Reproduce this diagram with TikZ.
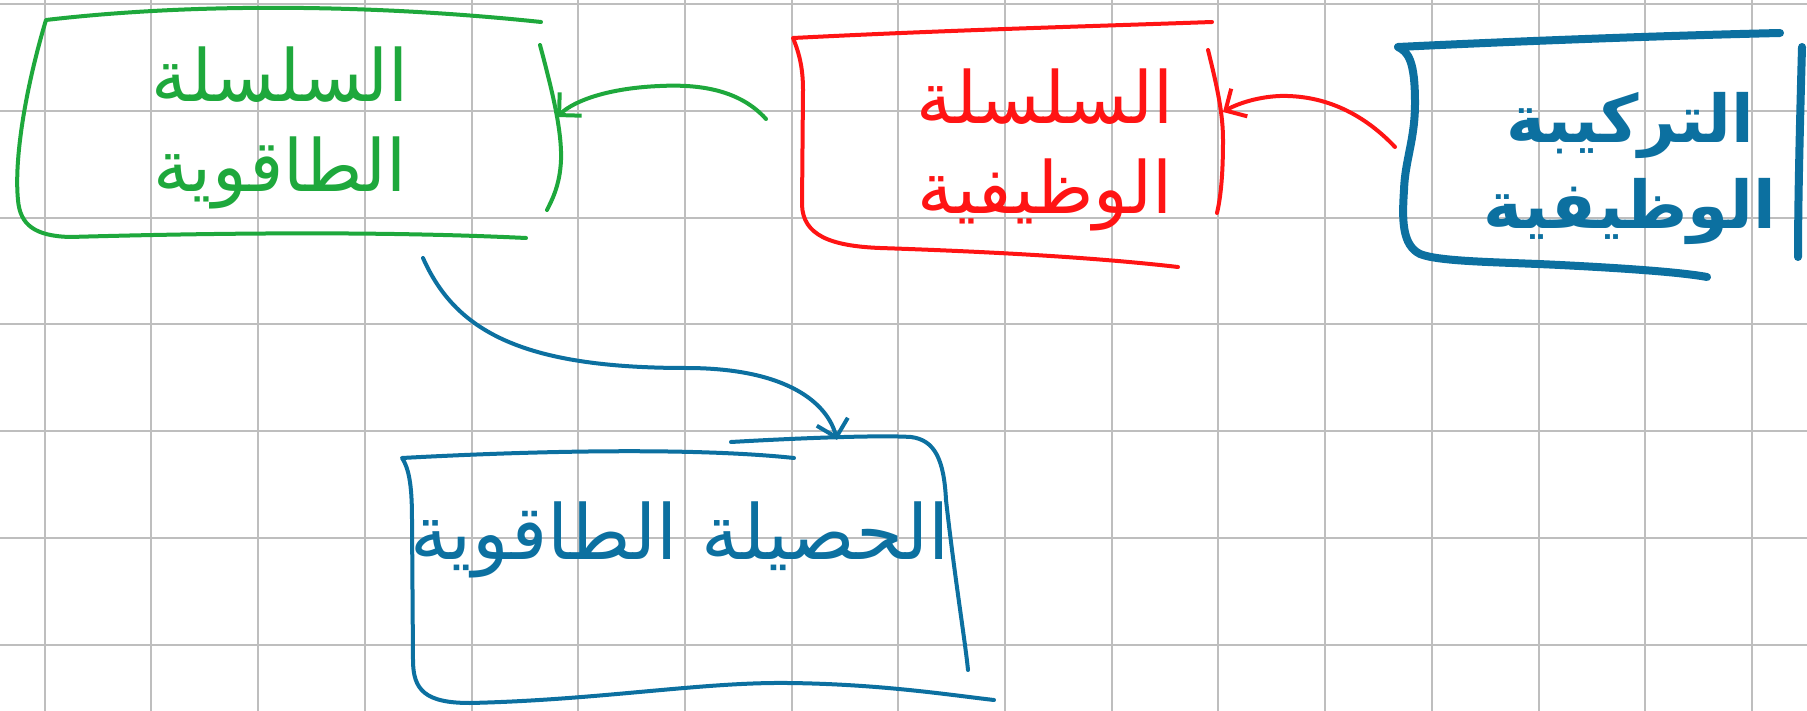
\documentclass[tikz,border=0pt]{standalone}
\usepackage{fontspec}
\newfontfamily\arabicfont[Script=Arabic]{DejaVu Sans}
\TeXXeTstate=1
\usetikzlibrary{arrows.meta}
\definecolor{pgreen}{RGB}{30,168,60}
\definecolor{pred}{RGB}{255,20,20}
\definecolor{pblue}{RGB}{12,112,160}
\definecolor{gridgray}{RGB}{190,190,190}
\begin{document}
\begin{tikzpicture}[x=1pt,y=-1pt,line cap=round,line join=round,
  pen/.style={line width=4pt},
  thickpen/.style={line width=8pt},
  lbl/.style={font=\arabicfont\fontsize{72}{90}\selectfont,align=center,inner sep=0pt},
  arr/.style={-{Straight Barb[length=16pt,width=32pt]}}]
\useasboundingbox (0,0) rectangle (1807,711);
\fill[white] (0,0) rectangle (1807,711);
% grid
\foreach \k in {0,...,16}{\draw[gridgray,line width=2pt] ({44.7+\k*106.7},0) -- ({44.7+\k*106.7},711);}
\foreach \k in {0,...,6}{\draw[gridgray,line width=2pt] (0,{4.3+\k*106.7}) -- (1807,{4.3+\k*106.7});}

% text nodes
\node[lbl,text=pgreen] (green) at (280,128) {\beginR السلسلة\endR\\\beginR الطاقوية\endR};
\node[lbl,text=pred] (red) at (1045,150) {\beginR السلسلة\endR\\\beginR الوظيفية\endR};
\node[lbl,text=pblue,font=\arabicfont\bfseries\fontsize{66}{86}\selectfont] (blue) at (1630,168) {\beginR التركيبة\endR\\\beginR الوظيفية\endR};
\node[lbl,text=pblue,font=\arabicfont\fontsize{76}{90}\selectfont] (bal) at (680,540) {\beginR الحصيلة الطاقوية\endR};

% green box
\draw[pen,pgreen] (541,22) .. controls (380,5) and (200,2) .. (46,20)
  .. controls (25,90) and (14,160) .. (18,200)
  .. controls (20,225) and (35,236) .. (70,237)
  .. controls (250,232) and (400,232) .. (526,238);
\draw[pen,pgreen] (540,45) .. controls (552,90) and (562,130) .. (561,160)
  .. controls (560,185) and (552,200) .. (547,210);

% red box
\draw[pen,pred] (1212,22) .. controls (1100,26) and (950,30) .. (793,38)
  .. controls (800,55) and (803,70) .. (803,90) -- (802,205)
  .. controls (803,235) and (830,246) .. (880,248)
  .. controls (1000,252) and (1100,258) .. (1178,267);
\draw[pen,pred] (1208,50) .. controls (1218,90) and (1223,115) .. (1223,140)
  .. controls (1223,180) and (1220,200) .. (1217,213);

% blue right box
\draw[thickpen,pblue] (1780,33) .. controls (1650,36) and (1500,42) .. (1398,47)
  .. controls (1408,52) and (1415,60) .. (1415,103)
  .. controls (1415,140) and (1405,160) .. (1404,190)
  .. controls (1402,220) and (1402,245) .. (1420,254)
  .. controls (1440,262) and (1500,262) .. (1560,265)
  .. controls (1620,268) and (1680,272) .. (1707,277);
\draw[thickpen,pblue] (1802,47) .. controls (1800,120) and (1798,200) .. (1798,257);

% bottom blue box
\draw[pen,pblue] (794,458) .. controls (700,448) and (550,450) .. (402,458)
  .. controls (410,470) and (412,490) .. (412,520) -- (413,660)
  .. controls (413,690) and (425,703) .. (470,703)
  .. controls (600,700) and (700,682) .. (788,683)
  .. controls (880,684) and (950,695) .. (994,700);
\draw[pen,pblue] (731,442) .. controls (800,438) and (880,435) .. (911,437)
  .. controls (935,440) and (944,460) .. (946,500)
  .. controls (955,580) and (965,640) .. (968,670);

% connector end points
\coordinate (blueL) at (1395,147);
\coordinate (redR) at (1223,112);
\coordinate (redL) at (766,119);
\coordinate (greenR) at (557,117);
\coordinate (greenB) at (423,258);
\coordinate (balT) at (837,440);

% connectors
\draw[pen,pred,arr] (blueL) .. controls (1360,110) and (1320,95) .. (1280,96)
  .. controls (1255,97) and (1235,105) .. (redR);
\draw[pen,pgreen,arr] (redL) .. controls (740,90) and (700,84) .. (660,86)
  .. controls (610,88) and (575,100) .. (greenR);
\draw[pen,pblue,arr] (greenB) .. controls (455,330) and (520,368) .. (686,368)
  .. controls (790,368) and (828,405) .. (balT);
\end{tikzpicture}
\end{document}
